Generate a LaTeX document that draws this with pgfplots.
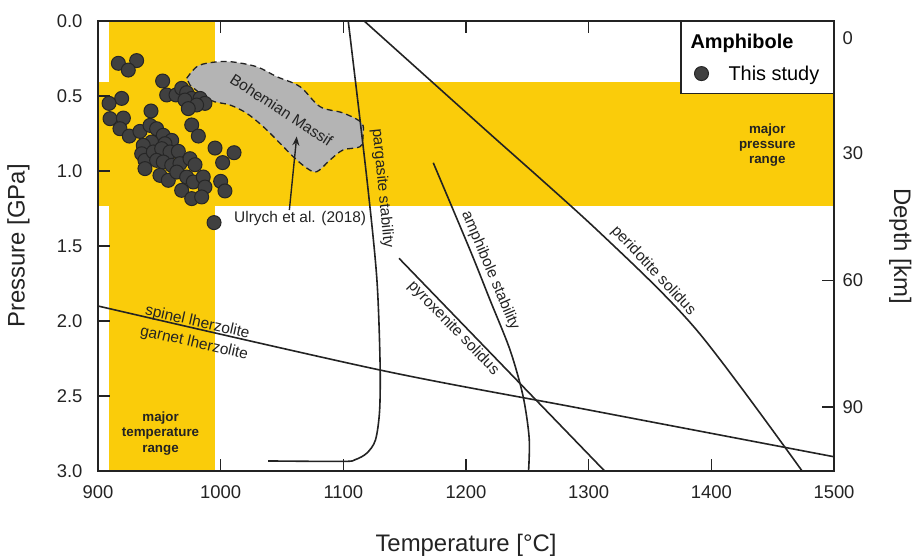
\documentclass[border=0pt]{standalone}
\usepackage{fontspec}
\setmainfont{Liberation Sans}
\usepackage{pgfplots}
\pgfplotsset{compat=1.18}
\usetikzlibrary{arrows.meta}
\definecolor{myyellow}{RGB}{250,204,10}
\definecolor{dk}{RGB}{35,35,35}
\definecolor{ptfill}{RGB}{64,64,64}
\definecolor{massif}{RGB}{180,180,180}
\begin{document}
\begin{tikzpicture}
\useasboundingbox (-98bp,-86bp) rectangle (820bp,471bp);
% depth axis
\begin{axis}[
 scale only axis, width=736bp, height=450bp,
 xmin=900, xmax=1500, ymin=0, ymax=3, y dir=reverse,
 axis x line=none, axis y line*=right,
 axis line style={dk, line width=1.6bp, -},
 tick style={dk, line width=1.4bp},
 tick align=inside, major tick length=12bp,
 ytick={0.878,1.731,2.573}, yticklabels={30,60,90},
 extra y ticks={0.113}, extra y tick labels={0},
 extra y tick style={major tick length=0pt},
 yticklabel style={font=\fontsize{18.5}{20}\selectfont, text=dk, xshift=5bp},
 ylabel={Depth [km]},
 ylabel style={font=\fontsize{24}{28}\selectfont, text=dk, at={(axis description cs:1.09,0.5)}, anchor=center, rotate=180},
]
\addplot[draw=none, forget plot] coordinates {(1000,1)};
\end{axis}
\begin{axis}[
 scale only axis, width=736bp, height=450bp,
 xmin=900, xmax=1500, ymin=0, ymax=3, y dir=reverse,
 axis on top,
 axis line style={dk, line width=1.6bp},
 tick style={dk, line width=1.4bp},
 tick align=inside, major tick length=12bp,
 xtick={900,1000,...,1500}, ytick={0,0.5,...,3},
 xtick pos=both, ytick pos=left,
 /pgf/number format/assume math mode=true,
 xticklabel style={/pgf/number format/1000 sep={}, yshift=-11bp},
 yticklabel style={/pgf/number format/.cd, fixed, fixed zerofill, precision=1, /tikz/.cd, xshift=-12bp},
 ticklabel style={font=\fontsize{18.5}{20}\selectfont, text=dk},
 xlabel={Temperature [°C]}, ylabel={Pressure [GPa]},
 label style={font=\fontsize{24}{28}\selectfont, text=dk},
 xlabel style={at={(axis description cs:0.5,-0.165)}, anchor=center},
 ylabel style={at={(axis description cs:-0.108,0.5)}, anchor=center},
 legend style={at={(1,1)}, anchor=north east, draw=dk, line width=1.4bp, fill=white,
   font=\fontsize{20}{24}\selectfont, text=black, inner xsep=12bp, inner ysep=10bp,
   row sep=12bp, column sep=0bp},
 legend cell align=left,
]
% bands
\addplot[fill=myyellow, draw=none, forget plot] coordinates {(900,0.405) (1500,0.405) (1500,1.236) (900,1.236)} -- cycle;
\addplot[fill=myyellow, draw=none, forget plot] coordinates {(909,0) (995,0) (995,3) (909,3)} -- cycle;
% Bohemian Massif
\addplot[fill=massif, draw=dk, line width=1.3bp, dash pattern=on 6bp off 4bp, smooth, tension=0.55, forget plot] coordinates {
(972.3,0.382) (980.5,0.305) (991.3,0.278) (1007.6,0.271) (1029.4,0.305) (1045.7,0.371) (1064.7,0.438)
(1081.0,0.571) (1099.7,0.613) (1115.0,0.68) (1116.0,0.771) (1113.6,0.838) (1099.7,0.86) (1089.1,0.927)
(1078.3,1.005) (1070.1,0.98) (1059.2,0.905) (1048.4,0.815) (1034.8,0.705) (1021.2,0.615) (1007.6,0.56)
(991.3,0.527) (975.0,0.427)} -- cycle;
% pargasite stability
\addplot[dk, line width=1.6bp, smooth, tension=0.5, forget plot] coordinates {
(1038.6,2.933) (1100.0,2.936) (1109.5,2.925) (1119.0,2.882) (1126.2,2.793) (1129.6,2.593) (1129.9,2.26) (1127.2,1.705) (1119.0,1.038) (1104.0,0)};
% peridotite solidus
\addplot[dk, line width=1.6bp, smooth, tension=0.5, forget plot] coordinates {
(1117,0) (1211,0.69) (1309,1.41) (1388,2.06) (1474,3.0)};
% amphibole stability
\addplot[dk, line width=1.6bp, smooth, tension=0.5, forget plot] coordinates {
(1173.3,0.945) (1203.3,1.527) (1219.6,1.86) (1235.9,2.193) (1246.5,2.5) (1251.5,2.78) (1251.0,3.0)};
% pyroxenite solidus
\addplot[dk, line width=1.6bp, forget plot] coordinates {(1145.4,1.582) (1313,3.0)};
% spinel / garnet lherzolite
\addplot[dk, line width=1.6bp, smooth, tension=0.5, forget plot] coordinates {
(900,1.90) (1130,2.327) (1293,2.582) (1500,2.905)};
% arrow
\addplot[dk, line width=1.4bp, -{Stealth[length=9bp,width=7bp]}, forget plot] coordinates {(1056,1.26) (1062,0.77)};
% labels
\begin{scope}[every node/.style={text=dk, font=\fontsize{15.5}{18}\selectfont, inner sep=0pt}]
\node[rotate=-33] at (axis cs:1049.7,0.593) {Bohemian Massif};
\node[anchor=west] at (axis cs:1010.9,1.32) {Ulrych et al. (2018)};
\node[rotate=-12.7] at (axis cs:981,2.011) {spinel lherzolite};
\node[rotate=-12.7] at (axis cs:978.3,2.149) {garnet lherzolite};
\node[rotate=-84.5] at (axis cs:1131.8,1.115) {pargasite stability};
\node[rotate=-67] at (axis cs:1219.8,1.665) {amphibole stability};
\node[rotate=-46] at (axis cs:1189.7,2.049) {pyroxenite solidus};
\node[rotate=-47] at (axis cs:1352.7,1.665) {peridotite solidus};
\node[align=center, font=\fontsize{13.4}{15.5}\selectfont\bfseries] at (axis cs:1445.6,0.827) {major\\pressure\\range};
\node[align=center, font=\fontsize{13.4}{15.5}\selectfont\bfseries] at (axis cs:951,2.749) {major\\temperature\\range};
\end{scope}
% legend title
\addlegendimage{empty legend}
\addlegendentry{\hspace*{-20bp}\textbf{Amphibole}}
% points
\addplot[only marks, mark=*, mark size=7bp, mark options={fill=ptfill, draw=black!85, line width=1bp}] coordinates {
(916.6,0.282) (931.5,0.264) (924.7,0.327) (952.7,0.40) (919.3,0.516) (909,0.549) (956,0.493) (963.6,0.493)
(968.2,0.449) (972.3,0.478) (976.4,0.516) (970.9,0.527) (983.2,0.516) (987.2,0.549) (980.4,0.56) (973.6,0.584)
(943.2,0.60) (909.8,0.651) (920.7,0.647) (917.9,0.718) (925.5,0.767) (934.2,0.736) (942.4,0.696) (947.8,0.718)
(953.2,0.762) (960.1,0.796) (943.7,0.807) (936.9,0.829) (954.6,0.818) (935.6,0.885) (938.3,0.929) (945.1,0.873)
(951.9,0.851) (958.7,0.873) (965.5,0.869) (947.8,0.929) (953.2,0.94) (960.1,0.962) (966.8,0.951) (975,0.918)
(979.1,0.958) (938.3,0.984) (950.5,1.029) (957.3,1.062) (964.2,1.007) (972.3,1.04) (977.7,1.073) (985.8,1.04)
(987.2,1.107) (968.2,1.129) (976.4,1.184) (984.5,1.173) (976.4,0.693) (981.8,0.767) (995.4,0.847) (1010.9,0.878)
(1001.6,0.944) (1000,1.069) (1003.5,1.133) (994.6,1.344)};
\addlegendentry{\hspace*{18bp}This study}
\end{axis}
\end{tikzpicture}
\end{document}
